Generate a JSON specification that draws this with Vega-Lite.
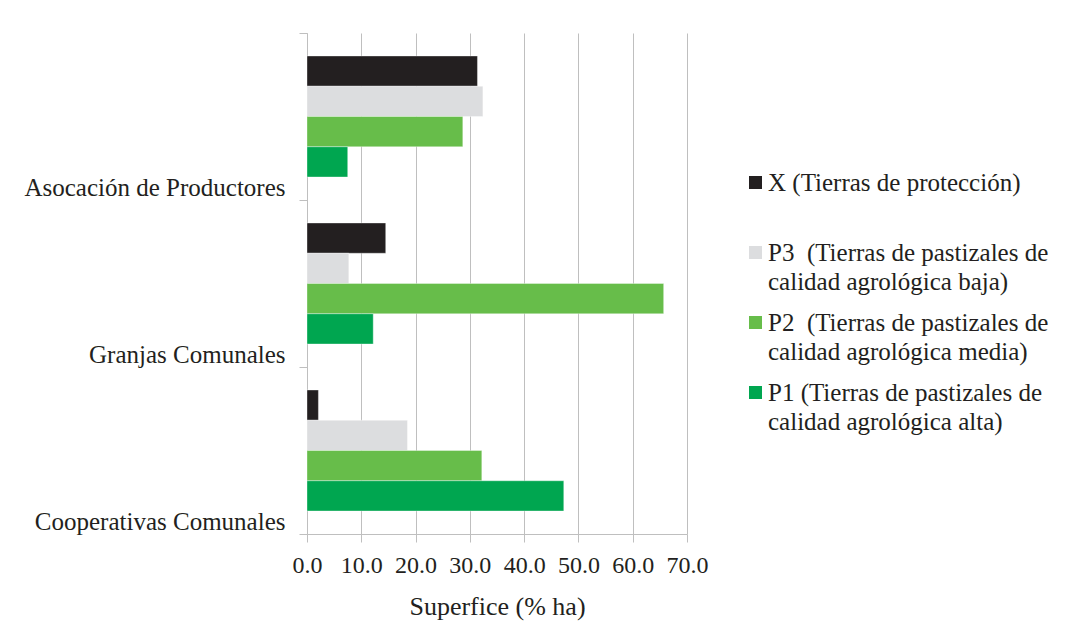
{
  "$schema": "https://vega.github.io/schema/vega-lite/v6.json",
  "width": 380,
  "height": 501,
  "autosize": {"type": "none"},
  "padding": {"left": 307, "top": 33, "right": 378, "bottom": 91},
  "background": "#ffffff",
  "config": {
    "font": "Liberation Serif",
    "view": {"stroke": null},
    "style": {"guide-label": {"lineHeight": 29.5}},
    "axis": {
      "labelFont": "Liberation Serif",
      "titleFont": "Liberation Serif",
      "labelColor": "#231f20",
      "titleColor": "#231f20",
      "domainColor": "#bfbfbf",
      "tickColor": "#bfbfbf",
      "gridColor": "#bfbfbf",
      "labelFontSize": 24,
      "titleFontSize": 26,
      "titleFontWeight": "normal",
      "tickSize": 8,
      "labelLimit": 400
    },
    "legend": {
      "labelFont": "Liberation Serif",
      "labelColor": "#231f20",
      "labelFontSize": 25,
      "labelLimit": 500,
      "padding": 0
    }
  },
  "data": {
    "values": [
      {"grupo": "Asocación de Productores", "tipo": "X (Tierras de protección)", "valor": 31.4},
      {"grupo": "Asocación de Productores", "tipo": "P3  (Tierras de pastizales de calidad agrológica baja)", "valor": 32.4},
      {"grupo": "Asocación de Productores", "tipo": "P2  (Tierras de pastizales de calidad agrológica media)", "valor": 28.7},
      {"grupo": "Asocación de Productores", "tipo": "P1 (Tierras de pastizales de calidad agrológica alta)", "valor": 7.5},
      {"grupo": "Granjas Comunales", "tipo": "X (Tierras de protección)", "valor": 14.5},
      {"grupo": "Granjas Comunales", "tipo": "P3  (Tierras de pastizales de calidad agrológica baja)", "valor": 7.7},
      {"grupo": "Granjas Comunales", "tipo": "P2  (Tierras de pastizales de calidad agrológica media)", "valor": 65.7},
      {"grupo": "Granjas Comunales", "tipo": "P1 (Tierras de pastizales de calidad agrológica alta)", "valor": 12.2},
      {"grupo": "Cooperativas Comunales", "tipo": "X (Tierras de protección)", "valor": 2.1},
      {"grupo": "Cooperativas Comunales", "tipo": "P3  (Tierras de pastizales de calidad agrológica baja)", "valor": 18.5},
      {"grupo": "Cooperativas Comunales", "tipo": "P2  (Tierras de pastizales de calidad agrológica media)", "valor": 32.2},
      {"grupo": "Cooperativas Comunales", "tipo": "P1 (Tierras de pastizales de calidad agrológica alta)", "valor": 47.3}
    ]
  },
  "mark": {"type": "bar", "stroke": "#ffffff", "strokeWidth": 0.6, "strokeOpacity": 0.6},
  "encoding": {
    "y": {
      "field": "grupo",
      "type": "nominal",
      "sort": null,
      "scale": {
        "domain": ["Asocación de Productores", "Granjas Comunales", "Cooperativas Comunales"],
        "paddingInner": 0,
        "paddingOuter": 0
      },
      "axis": {
        "title": null,
        "tickBand": "extent",
        "labelOffset": 70.5,
        "labelPadding": 14,
        "labelBaseline": "middle",
        "labelFontSize": 25,
        "grid": false
      }
    },
    "yOffset": {
      "field": "tipo",
      "type": "nominal",
      "scale": {
        "domain": [
          "X (Tierras de protección)",
          "P3  (Tierras de pastizales de calidad agrológica baja)",
          "P2  (Tierras de pastizales de calidad agrológica media)",
          "P1 (Tierras de pastizales de calidad agrológica alta)"
        ],
        "paddingInner": 0,
        "paddingOuter": 0.76
      }
    },
    "x": {
      "field": "valor",
      "type": "quantitative",
      "scale": {"domain": [0, 70], "nice": false},
      "axis": {
        "title": "Superfice (% ha)",
        "values": [0, 10, 20, 30, 40, 50, 60, 70],
        "format": ".1f",
        "grid": true,
        "labelPadding": 11,
        "titlePadding": 16,
        "labelFlush": false
      }
    },
    "color": {
      "field": "tipo",
      "type": "nominal",
      "scale": {
        "domain": [
          "X (Tierras de protección)",
          "P3  (Tierras de pastizales de calidad agrológica baja)",
          "P2  (Tierras de pastizales de calidad agrológica media)",
          "P1 (Tierras de pastizales de calidad agrológica alta)"
        ],
        "range": ["#231f20", "#dcdddf", "#67bd4a", "#00a650"]
      },
      "legend": {
        "title": null,
        "orient": "none",
        "legendX": 436,
        "legendY": 137,
        "symbolType": "square",
        "symbolSize": 169,
        "symbolStrokeWidth": 0,
        "labelOffset": 0,
        "labelBaseline": "middle",
        "rowPadding": 15,
        "labelExpr": "datum.label == 'X (Tierras de protección)' ? [datum.label, ' '] : split(replace(replace(datum.label, '  ', '\u00a0 '), ' calidad', '|calidad'), '|')"
      }
    }
  }
}
